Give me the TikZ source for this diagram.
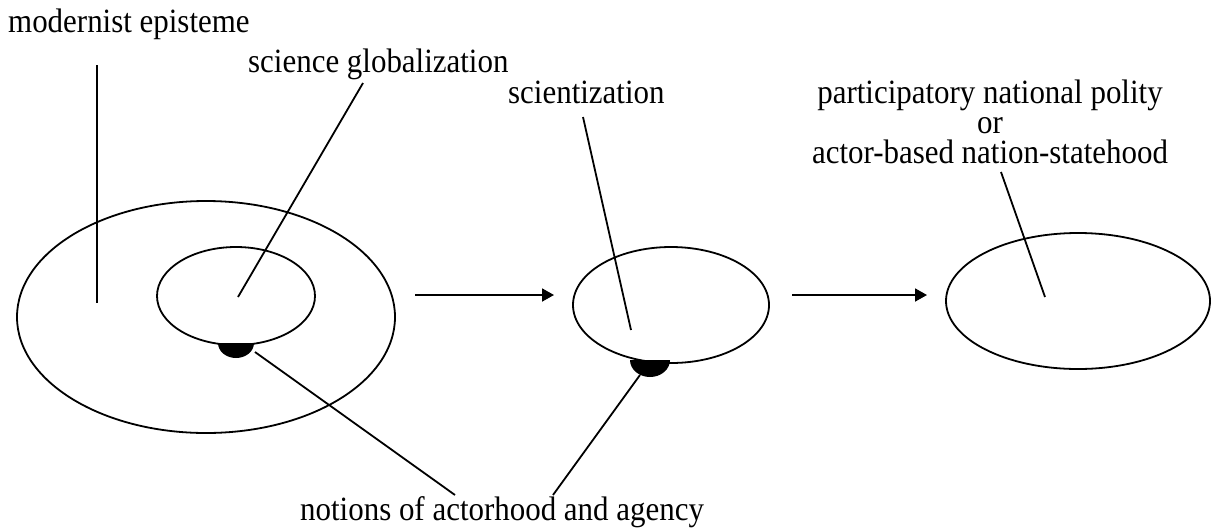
\documentclass[tikz,border=0pt]{standalone}
\usepackage{fontspec}
\setmainfont{Liberation Serif}
\newfontfamily\labelfont[FakeStretch=0.91]{Liberation Serif}
\usetikzlibrary{shapes.geometric,arrows.meta}
\tikzset{
  ring/.style={ellipse, draw, line width=1.8pt, inner sep=0pt},
  lbl/.style={anchor=base west, inner sep=0pt,
              font=\labelfont\fontsize{34}{30}\selectfont},
  lead/.style={line width=1.8pt},
  flow/.style={line width=1.8pt, -{Triangle[length=12pt,width=13pt]}},
  blob/.style={fill=black}
}
\begin{document}
\begin{tikzpicture}[x=1pt,y=-1pt]
\useasboundingbox (0,0) rectangle (1212,528);

% ellipses
\node[ring, minimum width=378pt, minimum height=232pt] (outer) at (206,317) {};
\node[ring, minimum width=158pt, minimum height=98pt] (inner) at (236,296) {};
\node[ring, minimum width=196pt, minimum height=116pt] (mid) at (671,305) {};
\node[ring, minimum width=264pt, minimum height=136pt] (right) at (1078,301) {};

% dark half-discs beneath the ellipses
\fill[blob] (218,343) arc[start angle=180, end angle=0, x radius=18, y radius=15] -- cycle;
\fill[blob] (630,360) arc[start angle=180, end angle=0, x radius=20, y radius=17] -- cycle;

% labels (the three-line label is anchored at the baseline of its last line)
\node[lbl] (modern) at (8,32) {modernist episteme};
\node[lbl] (sciglob) at (248,72) {science globalization};
\node[lbl] (scient) at (508,103) {scientization};
\node[lbl, anchor=base, align=center] (polity) at (990,163)
  {participatory national polity\\or\\actor-based nation-statehood};
\node[lbl] (notions) at (300,520) {notions of actorhood and agency};

% leader line end points
\coordinate (m0) at (97,65);    \coordinate (m1) at (97,303);
\coordinate (g0) at (363,83);   \coordinate (g1) at (238,297);
\coordinate (s0) at (583,117);  \coordinate (s1) at (631,330);
\coordinate (p0) at (1001,172); \coordinate (p1) at (1045,297);
\coordinate (n0) at (455,495);  \coordinate (n1) at (255,352);
\coordinate (q0) at (553,495);  \coordinate (q1) at (640,375);

\draw[lead] (m0) -- (m1);
\draw[lead] (g0) -- (g1);
\draw[lead] (s0) -- (s1);
\draw[lead] (p0) -- (p1);
\draw[lead] (n0) -- (n1);
\draw[lead] (q0) -- (q1);

% flow arrows
\coordinate (a0) at (415,295); \coordinate (a1) at (554,295);
\coordinate (b0) at (792,295); \coordinate (b1) at (927,295);
\draw[flow] (a0) -- (a1);
\draw[flow] (b0) -- (b1);
\end{tikzpicture}
\end{document}
